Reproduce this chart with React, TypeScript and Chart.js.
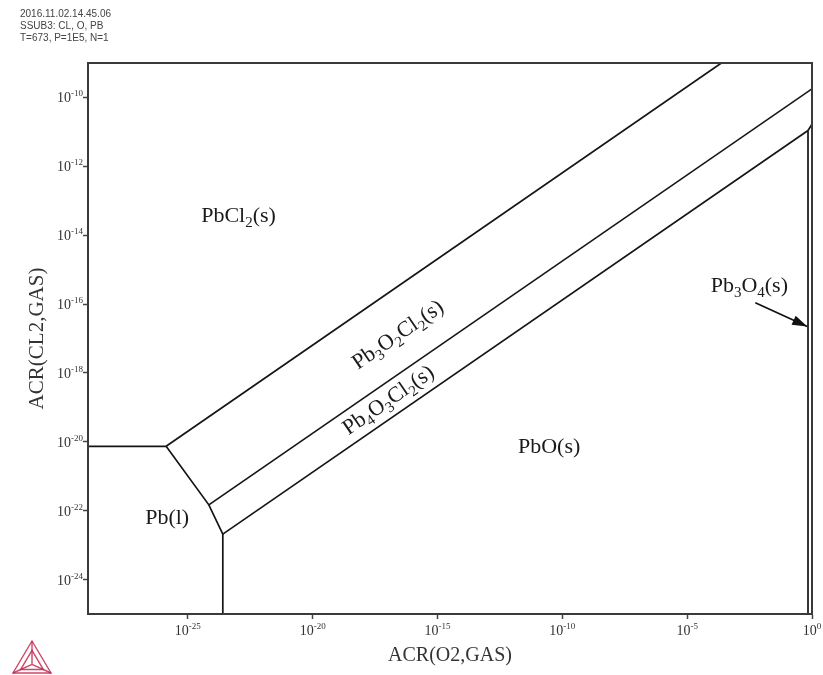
import React, { useEffect, useRef } from 'react';
import { Chart, registerables } from 'chart.js';

Chart.register(...registerables);

// ---- text ----
const HEADER_LINES = ['2016.11.02.14.45.06', 'SSUB3: CL, O, PB', 'T=673, P=1E5, N=1'];
const X_TITLE = 'ACR(O2,GAS)';
const Y_TITLE = 'ACR(CL2,GAS)';

// ---- axes (log10 of activities) ----
const X_MIN = -29;
const X_MAX = 0;
const Y_MIN = -25;
const Y_MAX = -9;
const X_TICKS = [-25, -20, -15, -10, -5, 0];
const Y_TICKS = [-24, -22, -20, -18, -16, -14, -12, -10];

// ---- phase boundaries (log10 ACR(O2), log10 ACR(CL2)) ----
const PB_PBCL2_X = [-29, -25.87];
const PB_PBCL2_Y = [-20.13, -20.13];
const PB_OXYCL_X = [-25.87, -24.16, -23.6];
const PB_OXYCL_Y = [-20.13, -21.83, -22.68];
const PB_PBO_X = [-23.6, -23.6];
const PB_PBO_Y = [-22.68, -25];
const PBCL2_PB3O2CL2_X = [-25.87, -3.63];
const PBCL2_PB3O2CL2_Y = [-20.13, -9.0];
const PB3O2CL2_PB4O3CL2_X = [-24.16, 0];
const PB3O2CL2_PB4O3CL2_Y = [-21.83, -9.75];
const PB4O3CL2_PBO_X = [-23.6, -0.16];
const PB4O3CL2_PBO_Y = [-22.68, -10.96];
const PB4O3CL2_PB3O4_X = [-0.16, 0];
const PB4O3CL2_PB3O4_Y = [-10.96, -10.78];
const PBO_PB3O4_X = [-0.16, -0.16];
const PBO_PB3O4_Y = [-10.96, -25];
const ARROW_X = [-2.27, -0.19];
const ARROW_Y = [-15.96, -16.65];

// ---- region labels (digits are drawn as subscripts) ----
const LABEL_TEXT = ['PbCl2(s)', 'Pb3O2Cl2(s)', 'Pb4O3Cl2(s)', 'PbO(s)', 'Pb(l)', 'Pb3O4(s)'];
const LABEL_X = [-22.97, -16.61, -16.99, -10.53, -25.83, -2.51];
const LABEL_Y = [-13.41, -16.87, -18.77, -20.1, -22.19, -15.43];
const LABEL_ROTATED = [false, true, true, false, false, false];

const BOUNDARIES: [number[], number[]][] = [
  [PB_PBCL2_X, PB_PBCL2_Y],
  [PB_OXYCL_X, PB_OXYCL_Y],
  [PB_PBO_X, PB_PBO_Y],
  [PBCL2_PB3O2CL2_X, PBCL2_PB3O2CL2_Y],
  [PB3O2CL2_PB4O3CL2_X, PB3O2CL2_PB4O3CL2_Y],
  [PB4O3CL2_PBO_X, PB4O3CL2_PBO_Y],
  [PB4O3CL2_PB3O4_X, PB4O3CL2_PB3O4_Y],
  [PBO_PB3O4_X, PBO_PB3O4_Y],
];

const SERIF = "'Liberation Serif', 'Times New Roman', 'DejaVu Serif', serif";
const SANS = "'Liberation Sans', Arial, 'DejaVu Sans', sans-serif";

function drawRich(ctx: CanvasRenderingContext2D, text: string, cx: number, cy: number, angle: number, size: number) {
  const big = `${size}px ${SERIF}`;
  const small = `${Math.round(size * 0.7)}px ${SERIF}`;
  const segs: { t: string; sub: boolean }[] = [];
  for (const ch of text) {
    const sub = /[0-9]/.test(ch);
    const last = segs[segs.length - 1];
    if (last && last.sub === sub) last.t += ch;
    else segs.push({ t: ch, sub });
  }
  ctx.save();
  ctx.translate(cx, cy);
  ctx.rotate(angle);
  ctx.textBaseline = 'alphabetic';
  ctx.textAlign = 'left';
  ctx.fillStyle = '#1a1a1a';
  let w = 0;
  for (const s of segs) {
    ctx.font = s.sub ? small : big;
    w += ctx.measureText(s.t).width;
  }
  let x = -w / 2;
  const base = size * 0.33;
  for (const s of segs) {
    ctx.font = s.sub ? small : big;
    ctx.fillText(s.t, x, s.sub ? base + size * 0.22 : base);
    x += ctx.measureText(s.t).width;
  }
  ctx.restore();
}

// "10" followed by a raised exponent; (ax: 0 = centered, 1 = right-aligned)
function drawPow(ctx: CanvasRenderingContext2D, exp: number, x: number, baseline: number, ax: number) {
  const big = `14px ${SERIF}`;
  const small = `9px ${SERIF}`;
  const e = String(exp);
  ctx.font = big;
  const wb = ctx.measureText('10').width;
  ctx.font = small;
  const ws = ctx.measureText(e).width;
  const w = wb + ws;
  const x0 = ax === 0 ? x - w / 2 : x - w;
  ctx.fillStyle = '#333';
  ctx.textAlign = 'left';
  ctx.textBaseline = 'alphabetic';
  ctx.font = big;
  ctx.fillText('10', x0, baseline);
  ctx.font = small;
  ctx.fillText(e, x0 + wb, baseline - 6);
}

const decor = {
  id: 'decor',
  afterDatasetsDraw(chart: any) {
    const { ctx, chartArea: a, scales } = chart;
    const xs = scales.x;
    const ys = scales.y;
    // frame
    ctx.save();
    ctx.strokeStyle = '#3a3a3a';
    ctx.lineWidth = 2;
    ctx.strokeRect(a.left, a.top, a.right - a.left, a.bottom - a.top);
    ctx.restore();

    // tick labels
    ctx.save();
    xs.ticks.forEach((t: any) => drawPow(ctx, t.value, xs.getPixelForValue(t.value), a.bottom + 21, 0));
    ys.ticks.forEach((t: any) => drawPow(ctx, t.value, a.left - 5, ys.getPixelForValue(t.value) + 5, 1));
    ctx.restore();

    // labels
    const dx = xs.getPixelForValue(PB3O2CL2_PB4O3CL2_X[1]) - xs.getPixelForValue(PB3O2CL2_PB4O3CL2_X[0]);
    const dy = ys.getPixelForValue(PB3O2CL2_PB4O3CL2_Y[1]) - ys.getPixelForValue(PB3O2CL2_PB4O3CL2_Y[0]);
    const ang = Math.atan2(dy, dx);
    LABEL_TEXT.forEach((t, i) => {
      drawRich(ctx, t, xs.getPixelForValue(LABEL_X[i]), ys.getPixelForValue(LABEL_Y[i]), LABEL_ROTATED[i] ? ang : 0, 22);
    });

    // arrow head
    const x0 = xs.getPixelForValue(ARROW_X[0]);
    const y0 = ys.getPixelForValue(ARROW_Y[0]);
    const x1 = xs.getPixelForValue(ARROW_X[1]);
    const y1 = ys.getPixelForValue(ARROW_Y[1]);
    const aa = Math.atan2(y1 - y0, x1 - x0);
    const L = 15;
    const W = 5;
    ctx.save();
    ctx.fillStyle = '#111';
    ctx.beginPath();
    ctx.moveTo(x1, y1);
    ctx.lineTo(x1 - L * Math.cos(aa) + W * Math.sin(aa), y1 - L * Math.sin(aa) - W * Math.cos(aa));
    ctx.lineTo(x1 - L * Math.cos(aa) - W * Math.sin(aa), y1 - L * Math.sin(aa) + W * Math.cos(aa));
    ctx.closePath();
    ctx.fill();
    ctx.restore();
  },
  afterDraw(chart: any) {
    const { ctx } = chart;
    ctx.save();
    ctx.fillStyle = '#444';
    ctx.font = `10px ${SANS}`;
    ctx.textBaseline = 'alphabetic';
    ctx.textAlign = 'left';
    HEADER_LINES.forEach((l, i) => ctx.fillText(l, 20, 17 + i * 12));
    // Thermo-Calc style logo
    const A = [32, 641];
    const B = [13, 673];
    const C = [51, 673];
    const G = [(A[0] + B[0] + C[0]) / 3, (A[1] + B[1] + C[1]) / 3 + 2];
    const sc = (p: number[], k: number) => [G[0] + (p[0] - G[0]) * k, G[1] + (p[1] - G[1]) * k];
    ctx.strokeStyle = 'rgba(196, 40, 80, 0.85)';
    ctx.lineWidth = 1.4;
    const tri = (k: number) => {
      const [p, q, r] = [sc(A, k), sc(B, k), sc(C, k)];
      ctx.beginPath();
      ctx.moveTo(p[0], p[1]);
      ctx.lineTo(q[0], q[1]);
      ctx.lineTo(r[0], r[1]);
      ctx.closePath();
      ctx.stroke();
    };
    tri(1);
    tri(0.6);
    ctx.beginPath();
    [A, B, C].forEach((p) => {
      ctx.moveTo(p[0], p[1]);
      ctx.lineTo(G[0], G[1]);
    });
    ctx.stroke();
    ctx.restore();
  },
};

export default function App() {
  const ref = useRef<HTMLCanvasElement>(null);
  useEffect(() => {
    document.body.style.margin = '0';
    const canvas = ref.current;
    if (!canvas) return;
    const datasets: any[] = BOUNDARIES.map(([bx, by]) => ({
      data: bx.map((x, i) => ({ x, y: by[i] })),
      showLine: true,
      borderColor: '#151515',
      borderWidth: 1.7,
      pointRadius: 0,
      fill: false,
    }));
    datasets.push({
      data: ARROW_X.map((x, i) => ({ x, y: ARROW_Y[i] })),
      showLine: true,
      borderColor: '#111',
      borderWidth: 1.7,
      pointRadius: 0,
      fill: false,
    });
    const chart = new Chart(canvas, {
      type: 'scatter',
      data: { datasets },
      options: {
        responsive: false,
        animation: false,
        devicePixelRatio: 1,
        layout: { padding: { top: 63, right: 11, left: 0, bottom: 0 } },
        plugins: { legend: { display: false }, tooltip: { enabled: false } },
        scales: {
          x: {
            type: 'linear',
            min: X_MIN,
            max: X_MAX,
            afterBuildTicks: (s: any) => { s.ticks = X_TICKS.map((value) => ({ value })); },
            afterFit: (s: any) => { s.height = 61; },
            ticks: { display: false, autoSkip: false },
            grid: { display: true, drawOnChartArea: false, drawTicks: true, tickLength: 5, tickColor: '#444', tickWidth: 1.5 },
            border: { display: true, color: '#3a3a3a', width: 2 },
            title: { display: true, text: X_TITLE, font: { family: SERIF, size: 20 }, color: '#333', padding: { top: 0, bottom: 7 } },
          },
          y: {
            type: 'linear',
            min: Y_MIN,
            max: Y_MAX,
            afterBuildTicks: (s: any) => { s.ticks = Y_TICKS.map((value) => ({ value })); },
            afterFit: (s: any) => { s.width = 88; },
            ticks: { display: false, autoSkip: false },
            grid: { display: true, drawOnChartArea: false, drawTicks: true, tickLength: 5, tickColor: '#444', tickWidth: 1.5 },
            border: { display: true, color: '#3a3a3a', width: 2 },
            title: { display: true, text: Y_TITLE, font: { family: SERIF, size: 21 }, color: '#333', padding: { top: 25, bottom: 0 } },
          },
        },
      },
      plugins: [decor],
    } as any);
    return () => chart.destroy();
  }, []);
  return <canvas ref={ref} width={823} height={675} style={{ display: 'block' }} />;
}
